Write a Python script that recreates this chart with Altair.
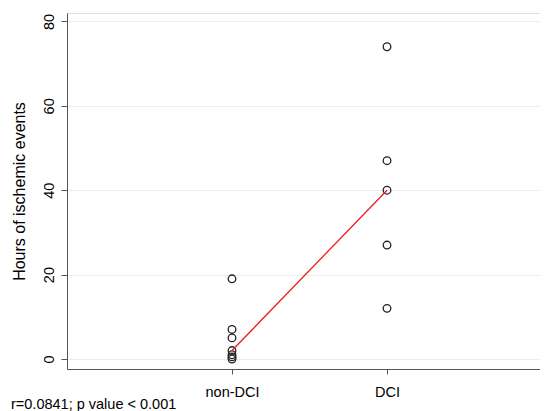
import altair as alt
import pandas as pd

# data
groups = ["non-DCI", "DCI"]
non_dci_hours = [19, 7, 5, 2, 1, 0.5, 0]
dci_hours = [74, 47, 40, 27, 12]
line_groups = [0, 1]          # group index of the fitted line ends
line_hours = [2, 40]          # line end values (group medians)
y_ticks = [0, 20, 40, 60, 80]
footnote = "r=0.0841; p value < 0.001"

pts = pd.DataFrame({
    "g": [0] * len(non_dci_hours) + [1] * len(dci_hours),
    "hours": non_dci_hours + dci_hours,
})
ln = pd.DataFrame({"g": line_groups, "hours": line_hours})

FONT = "Liberation Sans"
label_expr = "datum.value == 0 ? '%s' : (datum.value == 1 ? '%s' : '')" % (groups[0], groups[1])

x = alt.X("g:Q",
          scale=alt.Scale(domain=[-1.0645, 1.987], nice=False, zero=False),
          axis=alt.Axis(values=[0, 1], labelExpr=label_expr, title=None,
                        grid=False, tickSize=5, labelPadding=11,
                        labelFontSize=14.5, labelFont=FONT, labelColor="#000",
                        domainColor="#555", tickColor="#555"))
y = alt.Y("hours:Q",
          scale=alt.Scale(domain=[-2.37, 82], nice=False, zero=False),
          axis=alt.Axis(values=y_ticks, title="Hours of ischemic events",
                        titleFont=FONT, titleFontSize=16, titleFontWeight="normal",
                        titleColor="#000", titlePadding=14,
                        labelAngle=270, labelAlign="center", labelBaseline="bottom",
                        labelPadding=5, labelFontSize=14.5, labelFont=FONT,
                        labelColor="#000", tickSize=6,
                        domainColor="#555", tickColor="#555",
                        grid=True, gridColor="#e6eef1", gridWidth=1))

points = alt.Chart(pts).mark_point(shape="circle", filled=False, color="#222",
                                   size=58, strokeWidth=1.3, opacity=1).encode(x=x, y=y)
line = alt.Chart(ln).mark_line(color="#ee1c1c", strokeWidth=1.3).encode(x="g:Q", y="hours:Q")

chart = alt.layer(points, line).properties(
    width=473, height=356,
    padding={"left": 59, "top": 5, "right": 0, "bottom": 42},
    autosize=alt.AutoSizeParams(type="none"),
    title=alt.TitleParams(footnote, orient="bottom", anchor="start", frame="bounds",
                          font=FONT, fontSize=14.5, fontWeight="normal", color="#000",
                          offset=-1, dx=0),
).configure_view(stroke=None).configure(background="white")

chart.save("out.html", embed_options={"renderer": "svg", "actions": False})
